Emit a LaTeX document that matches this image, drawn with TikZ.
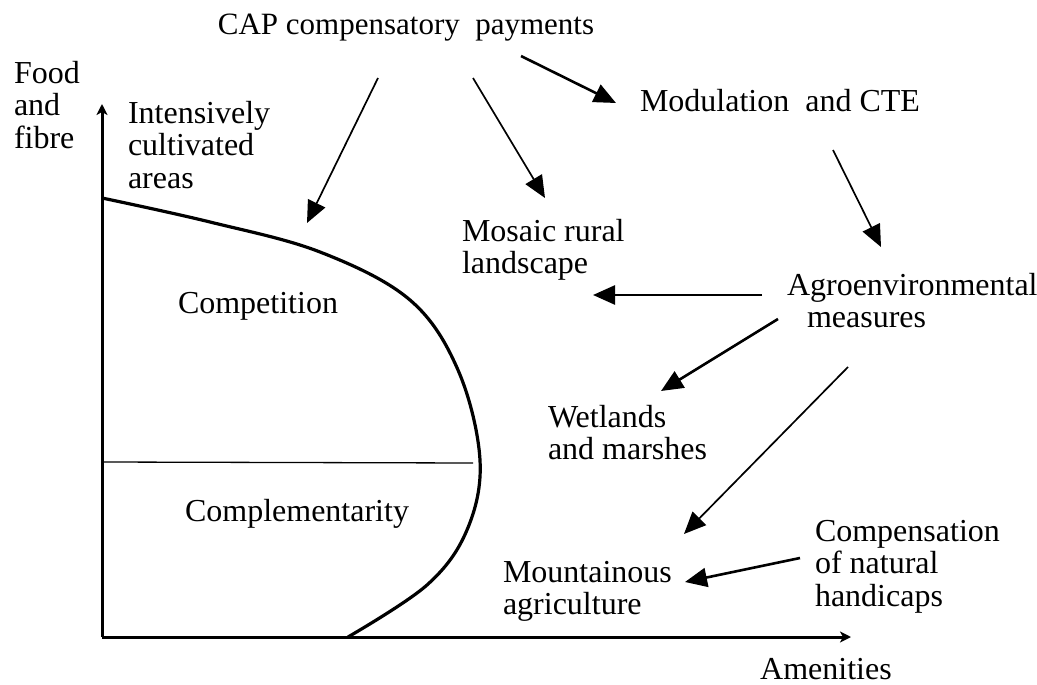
\documentclass[tikz,border=0pt]{standalone}
\usepackage{fontspec}
\setmainfont{Liberation Serif}
\usetikzlibrary{arrows.meta}
\begin{document}
\begin{tikzpicture}[x=1pt,y=-1pt,
  every node/.style={inner sep=0pt,outer sep=0pt,font=\fontsize{32}{32.5}\selectfont},
  lbl/.style={anchor=north west,align=left},
  axis/.style={line width=3pt,-{Stealth[length=11pt,width=11pt,inset=3pt]}},
  thinarr/.style={line width=1.7pt,-{Triangle[length=22pt,width=19pt]}},
  thickarr/.style={line width=2.6pt,-{Triangle[length=22pt,width=19pt]}},
  frontier/.style={line width=3.2pt}]
\useasboundingbox (0,0) rectangle (1037,685);
% axes
\coordinate (O) at (102,637);
\coordinate (ytip) at (102,104);
\coordinate (xtip) at (851,637);
\draw[axis] (O) -- (ytip);
\draw[axis] (O) -- (xtip);
% frontier curve
\draw[frontier] plot[smooth,tension=0.6] coordinates {(102,198) (210,222) (320,252) (410,300) (458,370) (480,460) (467,530) (427,585) (348,637)};
% division line
\coordinate (divL) at (102,462);
\coordinate (divR) at (473,463);
\draw[line width=1.3pt] (divL) -- (divR);
% texts
\node[anchor=base,font=\fontsize{31}{32.5}\selectfont] (cap) at (406,35) {CAP compensatory\ \ payments};
\node[lbl] (food) at (14,61) {Food\\and\\fibre};
\node[lbl] (int) at (128,101) {Intensively\\cultivated\\areas};
\node[anchor=base west] (mod) at (640,112) {Modulation\ \ and CTE};
\node[lbl] (mos) at (462,219) {Mosaic rural\\landscape};
\node[anchor=base] (comp) at (258,313) {Competition};
\node[lbl] (agro) at (787,273) {Agroenvironmental\\\hspace*{20pt}measures};
\node[lbl] (wet) at (548,405) {Wetlands\\and marshes};
\node[anchor=base] (compl) at (297,521) {Complementarity};
\node[lbl] (mount) at (503,561) {Mountainous\\agriculture};
\node[lbl] (cnh) at (815,520) {Compensation\\of natural\\handicaps};
\node[anchor=base] (amen) at (826,679) {Amenities};
% arrow endpoints
\coordinate (a1s) at (378,78);  \coordinate (a1e) at (307,223);
\coordinate (a2s) at (473,78);  \coordinate (a2e) at (545,198);
\coordinate (a3s) at (521,56);  \coordinate (a3e) at (616,103);
\coordinate (a4s) at (833,150); \coordinate (a4e) at (881,247);
\coordinate (a5s) at (762,295); \coordinate (a5e) at (593,295);
\coordinate (a6s) at (778,319); \coordinate (a6e) at (661,391);
\coordinate (a7s) at (848,367); \coordinate (a7e) at (684,534);
\coordinate (a8s) at (800,558); \coordinate (a8e) at (685,582);
\draw[thinarr] (a1s) -- (a1e);
\draw[thinarr] (a2s) -- (a2e);
\draw[thickarr] (a3s) -- (a3e);
\draw[thinarr] (a4s) -- (a4e);
\draw[thickarr] (a5s) -- (a5e);
\draw[thickarr] (a6s) -- (a6e);
\draw[thinarr] (a7s) -- (a7e);
\draw[thickarr] (a8s) -- (a8e);
\end{tikzpicture}
\end{document}
